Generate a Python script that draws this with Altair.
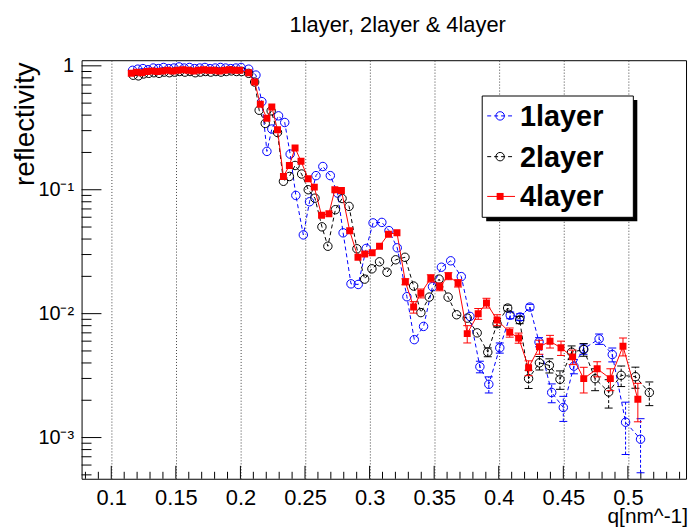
import altair as alt
import pandas as pd

FONT = "Liberation Sans, Arial, Helvetica, sans-serif"

# ---------------- data ----------------
series_names = ["1layer", "2layer", "4layer"]
series_colors = ["#0000ff", "#000000", "#ff0000"]

# 1layer (blue, open circles, dashed)
q_1layer = [0.1165, 0.1205, 0.1245, 0.1285, 0.1325, 0.1365, 0.1405, 0.1445, 0.1485, 0.1525, 0.1565,
            0.1605, 0.1645, 0.1685, 0.1725, 0.1765, 0.1805, 0.1845, 0.1885, 0.1925, 0.1965, 0.2005,
            0.2064, 0.2120, 0.2166, 0.2205, 0.2243, 0.2295, 0.2343, 0.2385, 0.2429, 0.2487, 0.2535,
            0.2585, 0.2638, 0.2696, 0.2752, 0.2795, 0.2856, 0.2912, 0.2974, 0.3027, 0.3095, 0.3150,
            0.3214, 0.3289, 0.3346, 0.3418, 0.3487, 0.3556, 0.3628, 0.3710, 0.3777, 0.3854, 0.3923,
            0.4008, 0.4089, 0.4166, 0.4241, 0.4312, 0.4410, 0.4500, 0.4582, 0.4656, 0.4777, 0.4879,
            0.4982, 0.5098]
r_1layer = [0.92, 0.94, 0.95, 0.93, 0.96, 0.95, 0.97, 0.95, 0.96, 0.98, 0.96,
            0.97, 0.95, 0.96, 0.97, 0.95, 0.96, 0.97, 0.96, 0.95, 0.96, 0.97,
            0.94, 0.842, 0.514, 0.204, 0.309, 0.395, 0.349, 0.194, 0.09, 0.0432, 0.08,
            0.13, 0.154, 0.13, 0.094, 0.0449, 0.0174, 0.0172, 0.0336, 0.054, 0.0545, 0.0468,
            0.034, 0.0137, 0.00617, 0.00789, 0.0165, 0.0237, 0.0267, 0.0199, 0.0095, 0.00373, 0.00269,
            0.0053, 0.0097, 0.0094, 0.0113, 0.0059, 0.00231, 0.00175, 0.00377, 0.0052, 0.00625, 0.00468,
            0.00133, 0.00097]
e_1layer = [0] * 53 + [0.0004, 0.0004, 0.0005, 0.0006, 0.0006, 0.0006, 0.0005, 0.0004, 0.0004,
                       0.0005, 0.0005, 0.0006, 0.0006, 0.0006, 0.00045]

# 2layer (black, open circles, dashed)
q_2layer = [0.1170, 0.1210, 0.1250, 0.1290, 0.1330, 0.1370, 0.1410, 0.1450, 0.1490, 0.1530, 0.1570,
            0.1610, 0.1650, 0.1690, 0.1730, 0.1770, 0.1810, 0.1850, 0.1890, 0.1930, 0.1970, 0.2010,
            0.2064, 0.2110, 0.2145, 0.2192, 0.2238, 0.2287, 0.2333, 0.2379, 0.2423, 0.2474, 0.2525,
            0.2577, 0.2631, 0.2677, 0.2735, 0.2787, 0.2841, 0.2902, 0.2962, 0.3018, 0.3077, 0.3135,
            0.3202, 0.3274, 0.3341, 0.3397, 0.3462, 0.3538, 0.3608, 0.3674, 0.3756, 0.3833, 0.3915,
            0.3987, 0.4069, 0.4162, 0.4231, 0.4315, 0.4392, 0.4474, 0.4564, 0.4658, 0.4746, 0.4851,
            0.4948, 0.5058, 0.5166]
r_2layer = [0.84, 0.83, 0.86, 0.87, 0.88, 0.87, 0.89, 0.88, 0.89, 0.90, 0.89,
            0.90, 0.88, 0.89, 0.90, 0.89, 0.90, 0.89, 0.90, 0.91, 0.90, 0.90,
            0.87, 0.74, 0.438, 0.343, 0.433, 0.29, 0.117, 0.128, 0.157, 0.134, 0.1,
            0.0855, 0.0502, 0.035, 0.069, 0.085, 0.0734, 0.0334, 0.019, 0.023, 0.0262, 0.0216,
            0.0272, 0.0285, 0.0167, 0.0102, 0.0136, 0.019, 0.0136, 0.0098, 0.0092, 0.0070, 0.00489,
            0.0083, 0.0111, 0.0089, 0.00299, 0.00401, 0.00382, 0.00295, 0.00489, 0.00513, 0.00299, 0.00233,
            0.00318, 0.0031, 0.00231]
e_2layer = [0] * 54 + [0.0004, 0.0005, 0.0006, 0.0006, 0.0005, 0.0005, 0.0005, 0.0005, 0.0006,
                       0.0006, 0.0006, 0.0006, 0.0006, 0.0006, 0.0005]

# 4layer (red, full squares, solid)
q_4layer = [0.1155, 0.1195, 0.1235, 0.1275, 0.1315, 0.1355, 0.1395, 0.1435, 0.1475, 0.1515, 0.1555,
            0.1595, 0.1635, 0.1675, 0.1715, 0.1755, 0.1795, 0.1835, 0.1875, 0.1915, 0.1955, 0.1995,
            0.2064, 0.2110, 0.2154, 0.2205, 0.2243, 0.2287, 0.2333, 0.2379, 0.2423, 0.2469, 0.2525,
            0.2572, 0.2628, 0.2685, 0.2731, 0.2782, 0.2846, 0.2910, 0.2962, 0.3020, 0.3077, 0.3146,
            0.3212, 0.3277, 0.3341, 0.3397, 0.3474, 0.3543, 0.3610, 0.3685, 0.3756, 0.3841, 0.3905,
            0.3987, 0.4085, 0.4154, 0.4231, 0.4315, 0.4397, 0.4482, 0.4572, 0.4658, 0.4762, 0.4864,
            0.4962, 0.5077]
r_4layer = [0.87, 0.89, 0.88, 0.90, 0.91, 0.90, 0.91, 0.92, 0.91, 0.92, 0.93,
            0.92, 0.91, 0.92, 0.93, 0.92, 0.92, 0.91, 0.92, 0.93, 0.92, 0.92,
            0.88, 0.74, 0.49, 0.378, 0.466, 0.305, 0.128, 0.157, 0.217, 0.17, 0.1225,
            0.105, 0.0622, 0.064, 0.1, 0.0986, 0.0466, 0.0285, 0.0303, 0.031, 0.035, 0.0438,
            0.0449, 0.0181, 0.0113, 0.0146, 0.0193, 0.0165, 0.0201, 0.0176, 0.0069, 0.0100, 0.0122,
            0.0089, 0.00706, 0.00637, 0.00366, 0.0054, 0.00598, 0.0053, 0.00448, 0.00299, 0.00359, 0.00299,
            0.00546, 0.00204]
e_4layer = [0] * 45 + [0.001, 0.0012, 0.0012, 0.0013, 0.0012, 0.0013, 0.0012, 0.0011, 0.001, 0.0011,
                       0.0009, 0.0006, 0.0006, 0.0005, 0.0007, 0.0007, 0.0007, 0.0006, 0.0007, 0.0005,
                       0.0006, 0.0009, 0.0007]

# axis ticks / labels
x_major = [0.1, 0.15, 0.2, 0.25, 0.3, 0.35, 0.4, 0.45, 0.5]
x_minor = [0.08, 0.09, 0.11, 0.12, 0.13, 0.14, 0.16, 0.17, 0.18, 0.19, 0.21, 0.22, 0.23, 0.24,
           0.26, 0.27, 0.28, 0.29, 0.31, 0.32, 0.33, 0.34, 0.36, 0.37, 0.38, 0.39, 0.41, 0.42,
           0.43, 0.44, 0.46, 0.47, 0.48, 0.49, 0.51, 0.52, 0.53, 0.54]
y_major = [0.001, 0.01, 0.1, 1]
y_major_labels = ["10⁻³", "10⁻²", "10⁻¹", "1"]
y_minor = [0.0005, 0.0006, 0.0007, 0.0008, 0.0009,
           0.002, 0.003, 0.004, 0.005, 0.006, 0.007, 0.008, 0.009,
           0.02, 0.03, 0.04, 0.05, 0.06, 0.07, 0.08, 0.09,
           0.2, 0.3, 0.4, 0.5, 0.6, 0.7, 0.8, 0.9]

title_text = "1layer, 2layer & 4layer"
x_title = "q[nm^-1]"
y_title = "reflectivity"

# ---------------- layout ----------------
W, H = 608, 421
xs = alt.Scale(domain=[0.077, 0.545], nice=False, zero=False)
ys = alt.Scale(type="log", domain=[4.65e-4, 1.11], nice=False)

label_expr = " : ".join(
    f"abs(datum.value - {v}) < {v * 0.01} ? '{l}'" for v, l in zip(y_major, y_major_labels)
) + " : ''"

x_axis = alt.Axis(values=x_major, format=".2~f", grid=True, gridDash=[1, 2], gridColor="#444444",
                  gridWidth=1, ticks=False, domain=False, labelFontSize=22, labelFont=FONT,
                  labelColor="black", labelPadding=9, title=None)
y_axis = alt.Axis(values=y_major, labelExpr=label_expr, grid=False, ticks=False, domain=False,
                  labelFontSize=20, labelFont=FONT, labelColor="black", labelPadding=8, title=None)


def X(field, **kw):
    return alt.X(field, scale=xs, axis=x_axis, **kw)


def Y(field, **kw):
    return alt.Y(field, scale=ys, axis=y_axis, **kw)


one = alt.Data(values=[{}])
layers = []

# inward ticks
layers.append(alt.Chart(pd.DataFrame({"t": x_major})).mark_rule(color="black", strokeWidth=1).encode(
    x=X("t:Q"), y=alt.value(H), y2=alt.value(H - 13)))
layers.append(alt.Chart(pd.DataFrame({"t": x_minor})).mark_rule(color="black", strokeWidth=1).encode(
    x=X("t:Q"), y=alt.value(H), y2=alt.value(H - 7)))
layers.append(alt.Chart(pd.DataFrame({"t": y_major})).mark_rule(color="black", strokeWidth=1).encode(
    y=Y("t:Q"), x=alt.value(0), x2=alt.value(20)))
layers.append(alt.Chart(pd.DataFrame({"t": y_minor})).mark_rule(color="black", strokeWidth=1).encode(
    y=Y("t:Q"), x=alt.value(0), x2=alt.value(10)))


def series_layers(q, r, e, color, dashed, marker):
    df = pd.DataFrame({"q": q, "r": r, "e": e})
    base = alt.Chart(df)
    dkw = {"strokeDash": [4, 3]} if dashed else {}
    out = []
    out.append(base.mark_line(color=color, strokeWidth=1, clip=True, **dkw).encode(
        x=X("q:Q"), y=Y("r:Q")))
    err = base.transform_filter("datum.e > 0").transform_calculate(
        lo="max(datum.r - datum.e, 1e-5)", hi="datum.r + datum.e")
    bkw = {"strokeDash": [3, 2]} if dashed else {}
    out.append(err.mark_rule(color=color, strokeWidth=1, clip=True, **bkw).encode(
        x=X("q:Q"), y=Y("lo:Q"), y2="hi:Q"))
    for f in ["lo", "hi"]:
        out.append(err.mark_rule(color=color, strokeWidth=1, clip=True, xOffset=-4, x2Offset=4).encode(
            x=X("q:Q"), x2="q:Q", y=Y(f"{f}:Q")))
    if marker == "square":
        pm = base.mark_point(shape="square", filled=True, size=49, color=color, opacity=1, clip=True)
    else:
        pm = base.mark_point(shape="circle", filled=False, size=72, color=color, strokeWidth=1,
                             opacity=1, clip=True)
    out.append(pm.encode(x=X("q:Q"), y=Y("r:Q")))
    return out


layers += series_layers(q_1layer, r_1layer, e_1layer, series_colors[0], True, "circle")
layers += series_layers(q_2layer, r_2layer, e_2layer, series_colors[1], True, "circle")
layers += series_layers(q_4layer, r_4layer, e_4layer, series_colors[2], False, "square")

# legend box with shadow
layers.append(alt.Chart(one).mark_rect(fill="black").encode(
    x=alt.value(407), x2=alt.value(559), y=alt.value(40), y2=alt.value(162)))
layers.append(alt.Chart(one).mark_rect(fill="white", stroke="black", strokeWidth=1).encode(
    x=alt.value(403), x2=alt.value(555), y=alt.value(36), y2=alt.value(158)))

legend_rows = [56, 97, 137]
for name, color, yrow, dashed, marker in zip(series_names, series_colors, legend_rows,
                                             [True, True, False], ["circle", "circle", "square"]):
    dkw = {"strokeDash": [4, 3]} if dashed else {}
    layers.append(alt.Chart(one).mark_rule(color=color, strokeWidth=1, **dkw).encode(
        x=alt.value(408), x2=alt.value(436), y=alt.value(yrow)))
    if marker == "square":
        pm = alt.Chart(one).mark_point(shape="square", filled=True, size=49, color=color, opacity=1)
    else:
        pm = alt.Chart(one).mark_point(shape="circle", filled=False, size=72, color=color,
                                       strokeWidth=1, opacity=1)
    layers.append(pm.encode(x=alt.value(421), y=alt.value(yrow)))
    layers.append(alt.Chart(one).mark_text(text=name, font=FONT, fontSize=29, fontWeight="bold",
                                           align="left", baseline="alphabetic", color="black").encode(
        x=alt.value(441), y=alt.value(yrow + 10)))

# titles
layers.append(alt.Chart(one).mark_text(text=title_text, font=FONT, fontSize=22, align="center",
                                       baseline="alphabetic", color="black").encode(
    x=alt.value(318), y=alt.value(-28)))
layers.append(alt.Chart(one).mark_text(text=x_title, font=FONT, fontSize=21, align="right",
                                       baseline="alphabetic", color="black").encode(
    x=alt.value(W + 2), y=alt.value(H + 44)))
layers.append(alt.Chart(one).mark_text(text=y_title, font=FONT, fontSize=28, align="right",
                                       baseline="alphabetic", angle=270, color="black").encode(
    x=alt.value(-48), y=alt.value(2)))

chart = alt.layer(*layers).properties(
    width=W, height=H,
    padding={"left": 74, "top": 51, "right": 4, "bottom": 49},
    autosize=alt.AutoSizeParams(type="none"),
    background="white",
).configure_view(stroke="black", strokeWidth=1)

chart.save("out.html", embed_options={"renderer": "svg", "actions": False})
